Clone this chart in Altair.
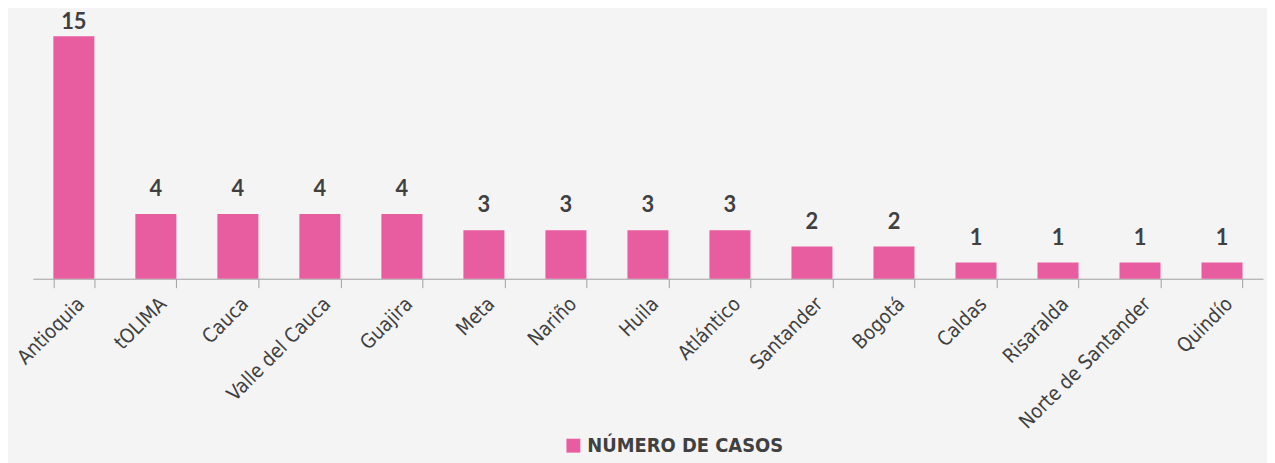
import altair as alt
import pandas as pd

departamentos = ["Antioquia", "tOLIMA", "Cauca", "Valle del Cauca", "Guajira", "Meta",
                 "Nariño", "Huila", "Atlántico", "Santander", "Bogotá", "Caldas",
                 "Risaralda", "Norte de Santander", "Quindío"]
casos = [15, 4, 4, 4, 4, 3, 3, 3, 3, 2, 2, 1, 1, 1, 1]
serie = "NÚMERO DE CASOS"

df = pd.DataFrame({"departamento": departamentos, "casos": casos, "serie": serie})

PINK = "#E75DA0"
TXT = "#404040"
NARROW = "Liberation Sans Narrow, DejaVu Sans Condensed, Roboto, sans-serif"

x = alt.X("departamento:N", sort=departamentos, title=None,
          scale=alt.Scale(paddingInner=0.5, paddingOuter=0.25),
          axis=alt.Axis(labelAngle=-45, labelFont=NARROW, labelFontSize=20,
                        labelColor=TXT, domainColor="#a0a0a0", tickColor="#a0a0a0",
                        tickSize=9, tickBand="extent", labelPadding=6, labelLimit=0))
y = alt.Y("casos:Q", title=None, scale=alt.Scale(domain=[0, 16.29], nice=False),
          axis=None)

bars = alt.Chart(df).mark_bar(color=PINK).encode(
    x=x, y=y,
    color=alt.Color("serie:N", scale=alt.Scale(range=[PINK]), title=None,
                    legend=alt.Legend(orient="none", legendX=534, legendY=423,
                                      symbolType="square", symbolSize=196,
                                      symbolStrokeWidth=0, labelLimit=0,
                                      labelFont=NARROW, labelFontSize=20,
                                      labelColor=TXT, labelFontWeight="bold"))
)

labels = alt.Chart(df).transform_calculate(
    ypos="min(datum.casos, 14.35)"
).mark_text(font="Lato", fontWeight="bold", fontSize=22, color=TXT,
            baseline="alphabetic", dy=-18).encode(
    x=alt.X("departamento:N", sort=departamentos),
    y=alt.Y("ypos:Q"),
    text="casos:Q"
)

chart = alt.layer(bars, labels).properties(
    width=1238, height=265,
    autosize=alt.AutoSizeParams(type="none"),
    padding={"left": 25, "top": 6, "right": 4, "bottom": 184},
    background="#f4f4f4"
).configure_view(stroke=None)

chart.save("out.html", embed_options={"renderer": "svg", "actions": False})
